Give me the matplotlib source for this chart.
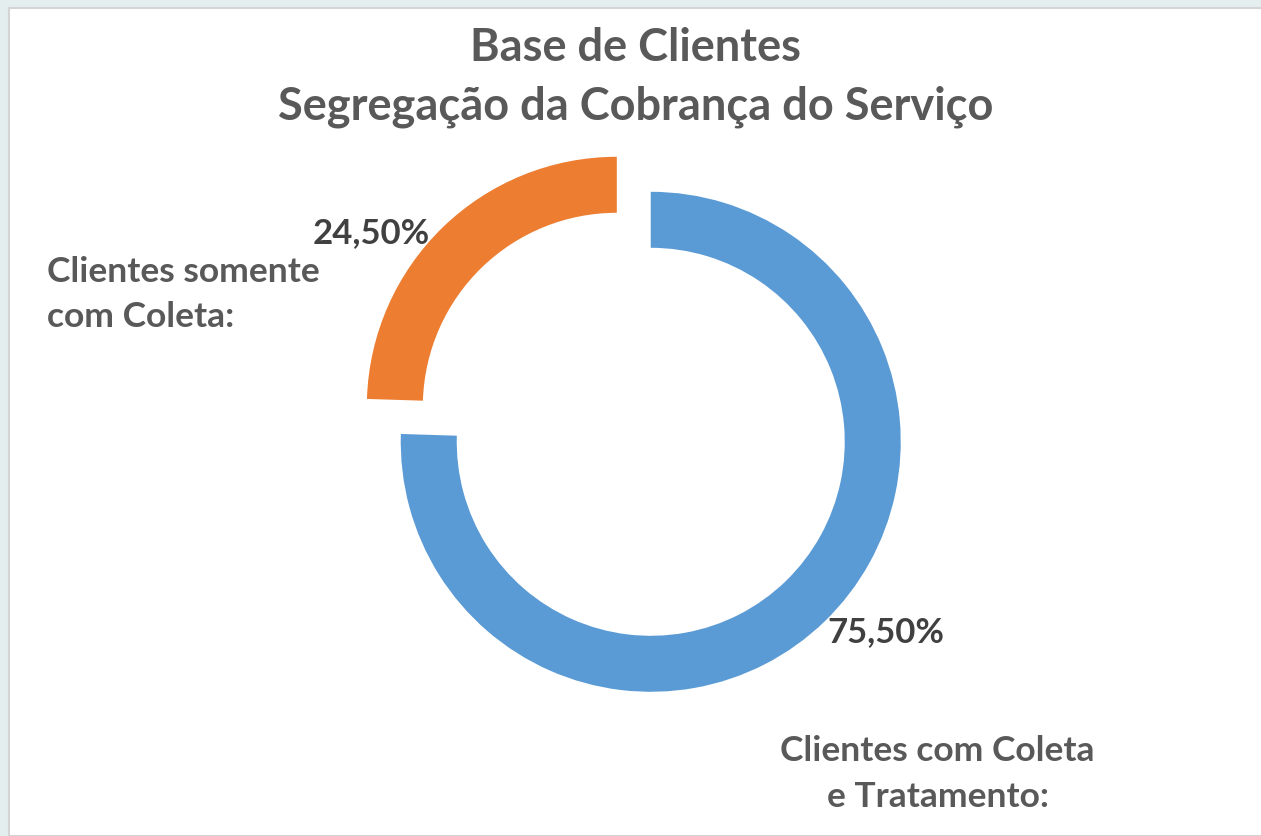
import matplotlib
matplotlib.use("Agg")
import matplotlib.pyplot as plt
from matplotlib.patches import Rectangle

# Dados do gráfico
categorias = ["Clientes com Coleta\ne Tratamento:", "Clientes somente\ncom Coleta:"]
valores = [75.50, 24.50]
cores = ["#5B9BD5", "#ED7D31"]
explosao = [0.01, 0.185]
titulo = ["Base de Clientes", "Segregação da Cobrança do Serviço"]

W, H = 1261, 836
fig = plt.figure(figsize=(W / 100, H / 100), dpi=100)
fig.patch.set_facecolor("#e4eeee")

# área branca do gráfico (fundo do slide aparece em cima e à esquerda)
fig.patches.append(Rectangle((9 / W, 0), 1, 1 - 8 / H, transform=fig.transFigure,
                             facecolor="white", edgecolor="#d4d4d4", linewidth=1.5,
                             zorder=-5))

# eixos em que 1 unidade = raio do anel em pixels
R = 250
cx, cy = 649, 440
ax = fig.add_axes([0, 0, 1, 1])
ax.patch.set_alpha(0)
ax.pie(valores, colors=cores, explode=explosao, startangle=90, counterclock=False,
       radius=1, wedgeprops=dict(width=56 / R, linewidth=0))
ax.set_xlim(-cx / R, (W - cx) / R)
ax.set_ylim(-(H - cy) / R, cy / R)
ax.set_aspect("auto")
ax.axis("off")

fonte = ["Lato", "DejaVu Sans"]


def px(x, y):
    return x / W, 1 - y / H


# título
fig.text(*px(636, 61), titulo[0], ha="center", va="baseline", fontsize=32.5,
         fontweight="bold", color="#595959", family=fonte)
fig.text(*px(636, 120), titulo[1], ha="center", va="baseline", fontsize=32.5,
         fontweight="bold", color="#595959", family=fonte)

# rótulos de porcentagem
def pct(v):
    return f"{v:.2f}".replace(".", ",") + "%"

fig.text(*px(371, 243), pct(valores[1]), ha="center", va="baseline", fontsize=25,
         fontweight="bold", color="#404040", family=fonte)
fig.text(*px(886, 642), pct(valores[0]), ha="center", va="baseline", fontsize=25,
         fontweight="bold", color="#404040", family=fonte)

# rótulos de categoria
l1, l2 = categorias[1].split("\n")
fig.text(*px(47, 282), l1, ha="left", va="baseline", fontsize=25.5,
         fontweight="bold", color="#595959", family=fonte)
fig.text(*px(47, 327), l2, ha="left", va="baseline", fontsize=25.5,
         fontweight="bold", color="#595959", family=fonte)
r1, r2 = categorias[0].split("\n")
fig.text(*px(937, 761), r1, ha="center", va="baseline", fontsize=25.5,
         fontweight="bold", color="#595959", family=fonte)
fig.text(*px(938, 807), r2, ha="center", va="baseline", fontsize=25.5,
         fontweight="bold", color="#595959", family=fonte)

fig.savefig("out.png", dpi=100, facecolor=fig.get_facecolor())
